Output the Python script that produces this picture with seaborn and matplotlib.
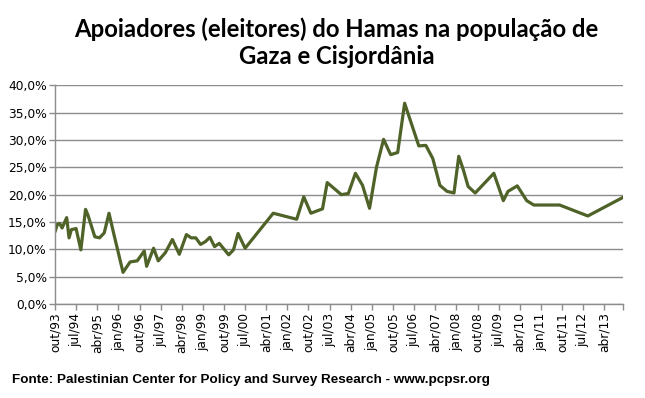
"""
Apoiadores do Hamas em Gaza e Cisjordania (PCPSR), line chart.
"""

import pandas as pd
import matplotlib.pyplot as plt
import seaborn as sns

# survey dates (year-month) and share of supporters in %
dates = ["1993-10", "1993-11", "1993-12", "1994-01", "1994-03", "1994-04",
         "1994-05", "1994-07", "1994-09", "1994-11", "1994-12", "1995-03",
         "1995-05", "1995-07", "1995-09", "1995-11", "1996-03", "1996-06",
         "1996-09", "1996-12", "1997-01", "1997-04", "1997-06", "1997-09",
         "1997-12", "1998-03", "1998-06", "1998-08", "1998-10", "1998-12",
         "1999-02", "1999-04", "1999-06", "1999-08", "1999-12", "2000-02",
         "2000-04", "2000-07", "2001-07", "2002-05", "2002-08", "2002-11",
         "2003-04", "2003-06", "2003-12", "2004-03", "2004-06", "2004-09",
         "2004-12", "2005-03", "2005-06", "2005-09", "2005-12", "2006-03",
         "2006-09", "2006-12", "2007-03", "2007-06", "2007-09", "2007-12",
         "2008-02", "2008-04", "2008-06", "2008-09", "2009-05", "2009-09",
         "2009-11", "2010-03", "2010-07", "2010-10", "2011-09", "2012-09",
         "2013-12"]
support = [13.2, 14.6, 14.7, 13.9, 15.8, 12.1, 13.6, 13.8, 9.9, 17.3, 16.3,
           12.3, 12.1, 13.0, 16.6, 12.9, 5.8, 7.7, 7.9, 9.7, 6.9, 10.2, 7.9,
           9.4, 11.8, 9.1, 12.7, 12.1, 12.1, 10.9, 11.4, 12.2, 10.5, 11.1,
           9.0, 9.9, 12.9, 10.2, 16.6, 15.5, 19.6, 16.6, 17.4, 22.2, 20.0,
           20.2, 23.9, 21.7, 17.5, 25.0, 30.1, 27.3, 27.7, 36.7, 28.9, 29.0,
           26.6, 21.7, 20.6, 20.3, 27.0, 24.5, 21.5, 20.3, 23.9, 18.9, 20.6,
           21.6, 18.9, 18.1, 18.1, 16.1, 19.5]

# category labels shown every 9 months
tick_labels = ["out/93", "jul/94", "abr/95", "jan/96", "out/96", "jul/97",
               "abr/98", "jan/99", "out/99", "jul/00", "abr/01", "jan/02",
               "out/02", "jul/03", "abr/04", "jan/05", "out/05", "jul/06",
               "abr/07", "jan/08", "out/08", "jul/09", "abr/10", "jan/11",
               "out/11", "jul/12", "abr/13"]
y_ticks = [0, 5, 10, 15, 20, 25, 30, 35, 40]

df = pd.DataFrame({"data": pd.to_datetime(dates), "apoio": support})

sns.set_style("white")
plt.rcParams["font.family"] = ["DejaVu Sans"]

fig = plt.figure(figsize=(6.45, 3.98), dpi=100)
ax = fig.add_axes([0.0853, 0.236, 0.8806, 0.550])

sns.lineplot(data=df, x="data", y="apoio", ax=ax, color="#4F6228",
             linewidth=2.3)

# x axis: ticks every 9 months, one extra tick at the end of the axis
tick_pos = pd.date_range("1993-10-01", periods=len(tick_labels), freq="9MS")
ax.set_xlim(df["data"].iloc[0], df["data"].iloc[-1])
ax.set_xticks(list(tick_pos) + [df["data"].iloc[-1]])
ax.set_xticklabels(tick_labels + [""], rotation=90, fontsize=8.8,
                   color="black")

ax.set_ylim(0, 40)
ax.set_yticks(y_ticks)
ax.set_yticklabels([f"{v:.1f}%".replace(".", ",") for v in y_ticks],
                   fontsize=8.8, color="black")

ax.grid(axis="y", color="#8c8c8c", linewidth=1)
ax.set_axisbelow(True)
for side in ["top", "right"]:
    ax.spines[side].set_visible(False)
for side in ["left", "bottom"]:
    ax.spines[side].set_color("#8c8c8c")
    ax.spines[side].set_linewidth(1)
ax.tick_params(axis="both", length=4, width=1, color="#8c8c8c",
               direction="out", pad=2, bottom=True, left=True)
ax.set_xlabel("")
ax.set_ylabel("")

fig.text(0.522, 0.893, "Apoiadores (eleitores) do Hamas na população de\n"
         "Gaza e Cisjordânia", ha="center", va="center", fontsize=17.2,
         fontweight="bold", family=["Lato", "DejaVu Sans"], linespacing=1.2,
         color="black")

fig.text(0.018, 0.045, "Fonte: Palestinian Center for Policy and Survey "
         "Research - www.pcpsr.org", ha="left", va="center", fontsize=9.7,
         fontweight="bold", family=["Liberation Sans", "DejaVu Sans"],
         color="black")

fig.savefig("out.png", dpi=100)
